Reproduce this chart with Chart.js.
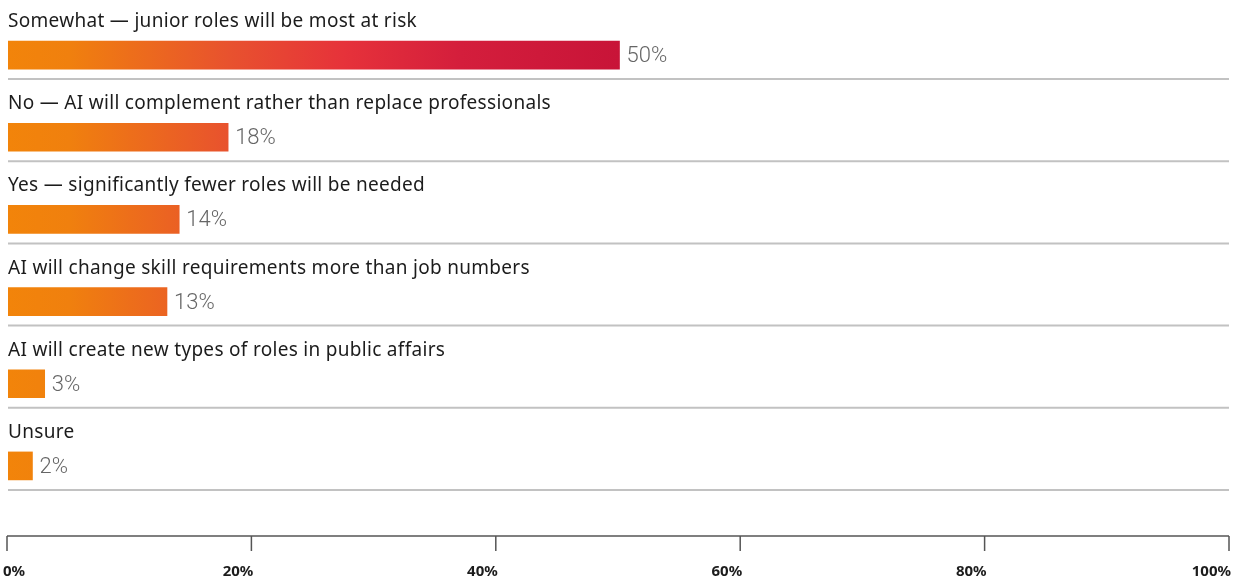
<!DOCTYPE html>
<html>
<head>
<meta charset="utf-8">
<script src="https://cdn.jsdelivr.net/npm/chart.js@4.4.1/dist/chart.umd.min.js"></script>
<style>
    html, body { margin: 0; padding: 0; background: #fff; }
    #wrap { width: 1242px; height: 578px; position: relative; }
</style>
</head>
<body>
<div id="wrap"><canvas id="rolesChart"></canvas></div>
<script>
const categories = [
    "Somewhat \u2014 junior roles will be most at risk",
    "No \u2014 AI will complement rather than replace professionals",
    "Yes \u2014 significantly fewer roles will be needed",
    "AI will change skill requirements more than job numbers",
    "AI will create new types of roles in public affairs",
    "Unsure",
];
const shares = [50, 18, 14, 13, 3, 2];
const tickValues = [0, 20, 40, 60, 80, 100];

const LABEL_FONT = "19px 'Noto Sans', sans-serif";
const VALUE_FONT = "300 22px Roboto, sans-serif";
const AXIS_FONT = "bold 15px 'Noto Sans', sans-serif";

// orange -> crimson, laid out along the value axis up to the longest bar
function barGradient(chart) {
    const { ctx, chartArea, scales } = chart;
    if (!chartArea) return "#F08008";
    const x0 = scales.x.getPixelForValue(0);
    const x1 = scales.x.getPixelForValue(Math.max(...shares));
    const g = ctx.createLinearGradient(x0, 0, x1, 0);
    g.addColorStop(0, "#F2840A");
    g.addColorStop(0.1, "#F0800E");
    g.addColorStop(0.36, "#E8522E");
    g.addColorStop(0.55, "#E6323A");
    g.addColorStop(0.74, "#D41E3C");
    g.addColorStop(1, "#C81438");
    return g;
}

// row labels above the bars, value labels, row separators
const rowDecor = {
    id: "rowDecor",
    afterDatasetsDraw(chart) {
        const { ctx, chartArea } = chart;
        const bars = chart.getDatasetMeta(0).data;
        ctx.save();
        bars.forEach((bar, i) => {
            const top = bar.y - bar.height / 2;
            const bottom = bar.y + bar.height / 2;

            ctx.font = LABEL_FONT;
            ctx.letterSpacing = "0.3px";
            ctx.fillStyle = "#1c1c1c";
            ctx.textAlign = "left";
            ctx.textBaseline = "alphabetic";
            ctx.fillText(categories[i], chartArea.left, top - 14);

            ctx.font = VALUE_FONT;
            ctx.letterSpacing = "0px";
            ctx.fillStyle = "#666666";
            ctx.fillText(shares[i] + "%", bar.x + 7, bar.y + 7);

            ctx.strokeStyle = "#C2C2C2";
            ctx.lineWidth = 2;
            ctx.beginPath();
            ctx.moveTo(chartArea.left, bottom + 10);
            ctx.lineTo(chartArea.right - 2, bottom + 10);
            ctx.stroke();
        });
        ctx.restore();
    },
};

// percentage axis sitting below the rows
const bottomAxis = {
    id: "bottomAxis",
    afterDraw(chart) {
        const { ctx, scales } = chart;
        const x = scales.x;
        const axisY = 536;
        const first = x.getPixelForValue(tickValues[0]) - 1;
        const last = x.getPixelForValue(tickValues[tickValues.length - 1]) - 2;
        const step = (last - first) / (tickValues.length - 1);
        ctx.save();
        ctx.strokeStyle = "#555";
        ctx.lineWidth = 1.5;
        ctx.beginPath();
        ctx.moveTo(first, axisY);
        ctx.lineTo(last, axisY);
        ctx.stroke();

        ctx.font = AXIS_FONT;
        ctx.fillStyle = "#1c1c1c";
        ctx.textBaseline = "alphabetic";
        tickValues.forEach((v, i) => {
            const px = first + step * i;
            ctx.beginPath();
            ctx.moveTo(px, axisY);
            ctx.lineTo(px, axisY + 15);
            ctx.stroke();
            if (i === 0) {
                ctx.textAlign = "left";
                ctx.fillText(v + "%", px - 4, 576);
            } else {
                ctx.textAlign = "right";
                ctx.fillText(v + "%", px + 2, 576);
            }
        });
        ctx.restore();
    },
};

const ctx = document.getElementById("rolesChart").getContext("2d");
new Chart(ctx, {
    type: "bar",
    data: {
        labels: categories,
        datasets: [
            {
                data: shares,
                backgroundColor: (c) => barGradient(c.chart),
                borderWidth: 0,
                barThickness: 28,
            },
        ],
    },
    options: {
        indexAxis: "y",
        responsive: true,
        maintainAspectRatio: false,
        animation: false,
        layout: {
            padding: { left: 8, right: 11, top: 14, bottom: 71 },
        },
        plugins: {
            legend: { display: false },
            tooltip: { enabled: false },
        },
        scales: {
            x: {
                display: false,
                min: 0,
                max: 100,
            },
            y: {
                display: false,
            },
        },
    },
    plugins: [rowDecor, bottomAxis],
});
</script>
</body>
</html>
